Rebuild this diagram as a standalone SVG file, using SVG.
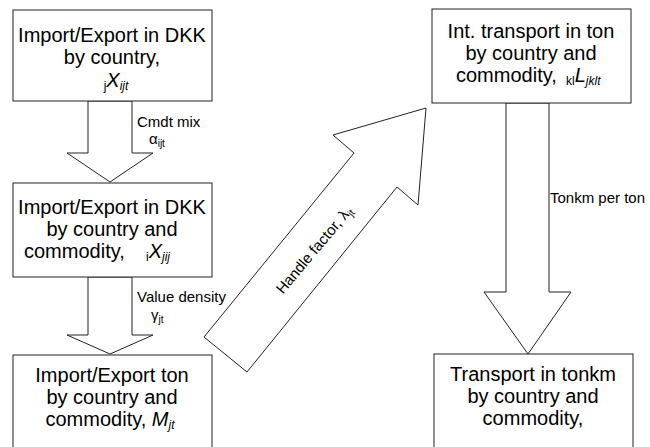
<svg xmlns="http://www.w3.org/2000/svg" width="650" height="447" viewBox="0 0 650 447">
<style>
.box{fill:#fff;stroke:#222;stroke-width:1}
.arr{fill:#fff;stroke:#222;stroke-width:1;stroke-linejoin:miter}
.t{font-family:"Liberation Sans",Arial,sans-serif;font-size:20px;fill:#000;text-anchor:middle}
.t.st{text-anchor:start}
.l{font-family:"Liberation Sans",Arial,sans-serif;font-size:15px;fill:#000}
.l.mid{text-anchor:middle}
.i{font-style:italic}
.s{font-size:12px}
.ls{font-size:10px}
</style>
<rect width="650" height="447" fill="#fff"/>
<g id="connectors">
  <polygon class="arr" points="88,101 132,101 132,153 153,153 110,182 67,153 88,153"/>
  <polygon class="arr" points="88,277 132,277 132,335 153,335 110,354 67,335 88,335"/>
  <polygon class="arr" points="506,103 549,103 549,292 571,292 528,354 484,292 506,292"/>
  <polygon class="arr" points="204,337 354,153 333,135 426,108 418,205 397,187 247,372"/>
  <text class="l" x="137" y="127">Cmdt mix</text>
  <text class="l" x="149" y="144">α<tspan class="ls" dy="3">ijt</tspan></text>
  <text class="l" x="137" y="302">Value density</text>
  <text class="l" x="151" y="320">γ<tspan class="ls" dy="3">jt</tspan></text>
  <text class="l" x="550" y="203">Tonkm per ton</text>
  <text class="l mid" x="318" y="253" transform="rotate(-50 318 253)">Handle factor, λ<tspan class="ls" dy="3">jt</tspan></text>
</g>
<g id="n1">
  <rect class="box" x="13" y="10" width="199" height="91"/>
  <text class="t" x="112" y="42">Import/Export in DKK</text>
  <text class="t" x="112" y="64">by country,</text>
  <text class="t" x="116" y="87"><tspan class="s" dy="3">j</tspan><tspan class="i" dy="-3">X</tspan><tspan class="i s" dy="3">ijt</tspan></text>
</g>
<g id="n2">
  <rect class="box" x="13" y="183" width="199" height="94"/>
  <text class="t" x="112" y="214">Import/Export in DKK</text>
  <text class="t" x="112" y="236">by country and</text>
  <text class="t st" x="24" y="258">commodity,<tspan class="s" x="146" dy="3">i</tspan><tspan class="i" dy="-3">X</tspan><tspan class="i s" dy="3">jij</tspan></text>
</g>
<g id="n3">
  <rect class="box" x="13" y="355" width="199" height="100"/>
  <text class="t" x="112" y="382">Import/Export ton</text>
  <text class="t" x="112" y="404">by country and</text>
  <text class="t" x="110" y="426">commodity, <tspan class="i">M</tspan><tspan class="i s" dy="3">jt</tspan></text>
</g>
<g id="n4">
  <rect class="box" x="432" y="9" width="199" height="94"/>
  <text class="t" x="531" y="38">Int. transport in ton</text>
  <text class="t" x="531" y="60">by country and</text>
  <text class="t st" x="456" y="82">commodity,<tspan class="s" x="566" dy="3">kl</tspan><tspan class="i" dy="-3">L</tspan><tspan class="i s" dy="3">jklt</tspan></text>
</g>
<g id="n5">
  <rect class="box" x="434" y="354" width="199" height="100"/>
  <text class="t" x="533" y="381">Transport in tonkm</text>
  <text class="t" x="533" y="403">by country and</text>
  <text class="t" x="533" y="425">commodity,</text>
</g>
</svg>
